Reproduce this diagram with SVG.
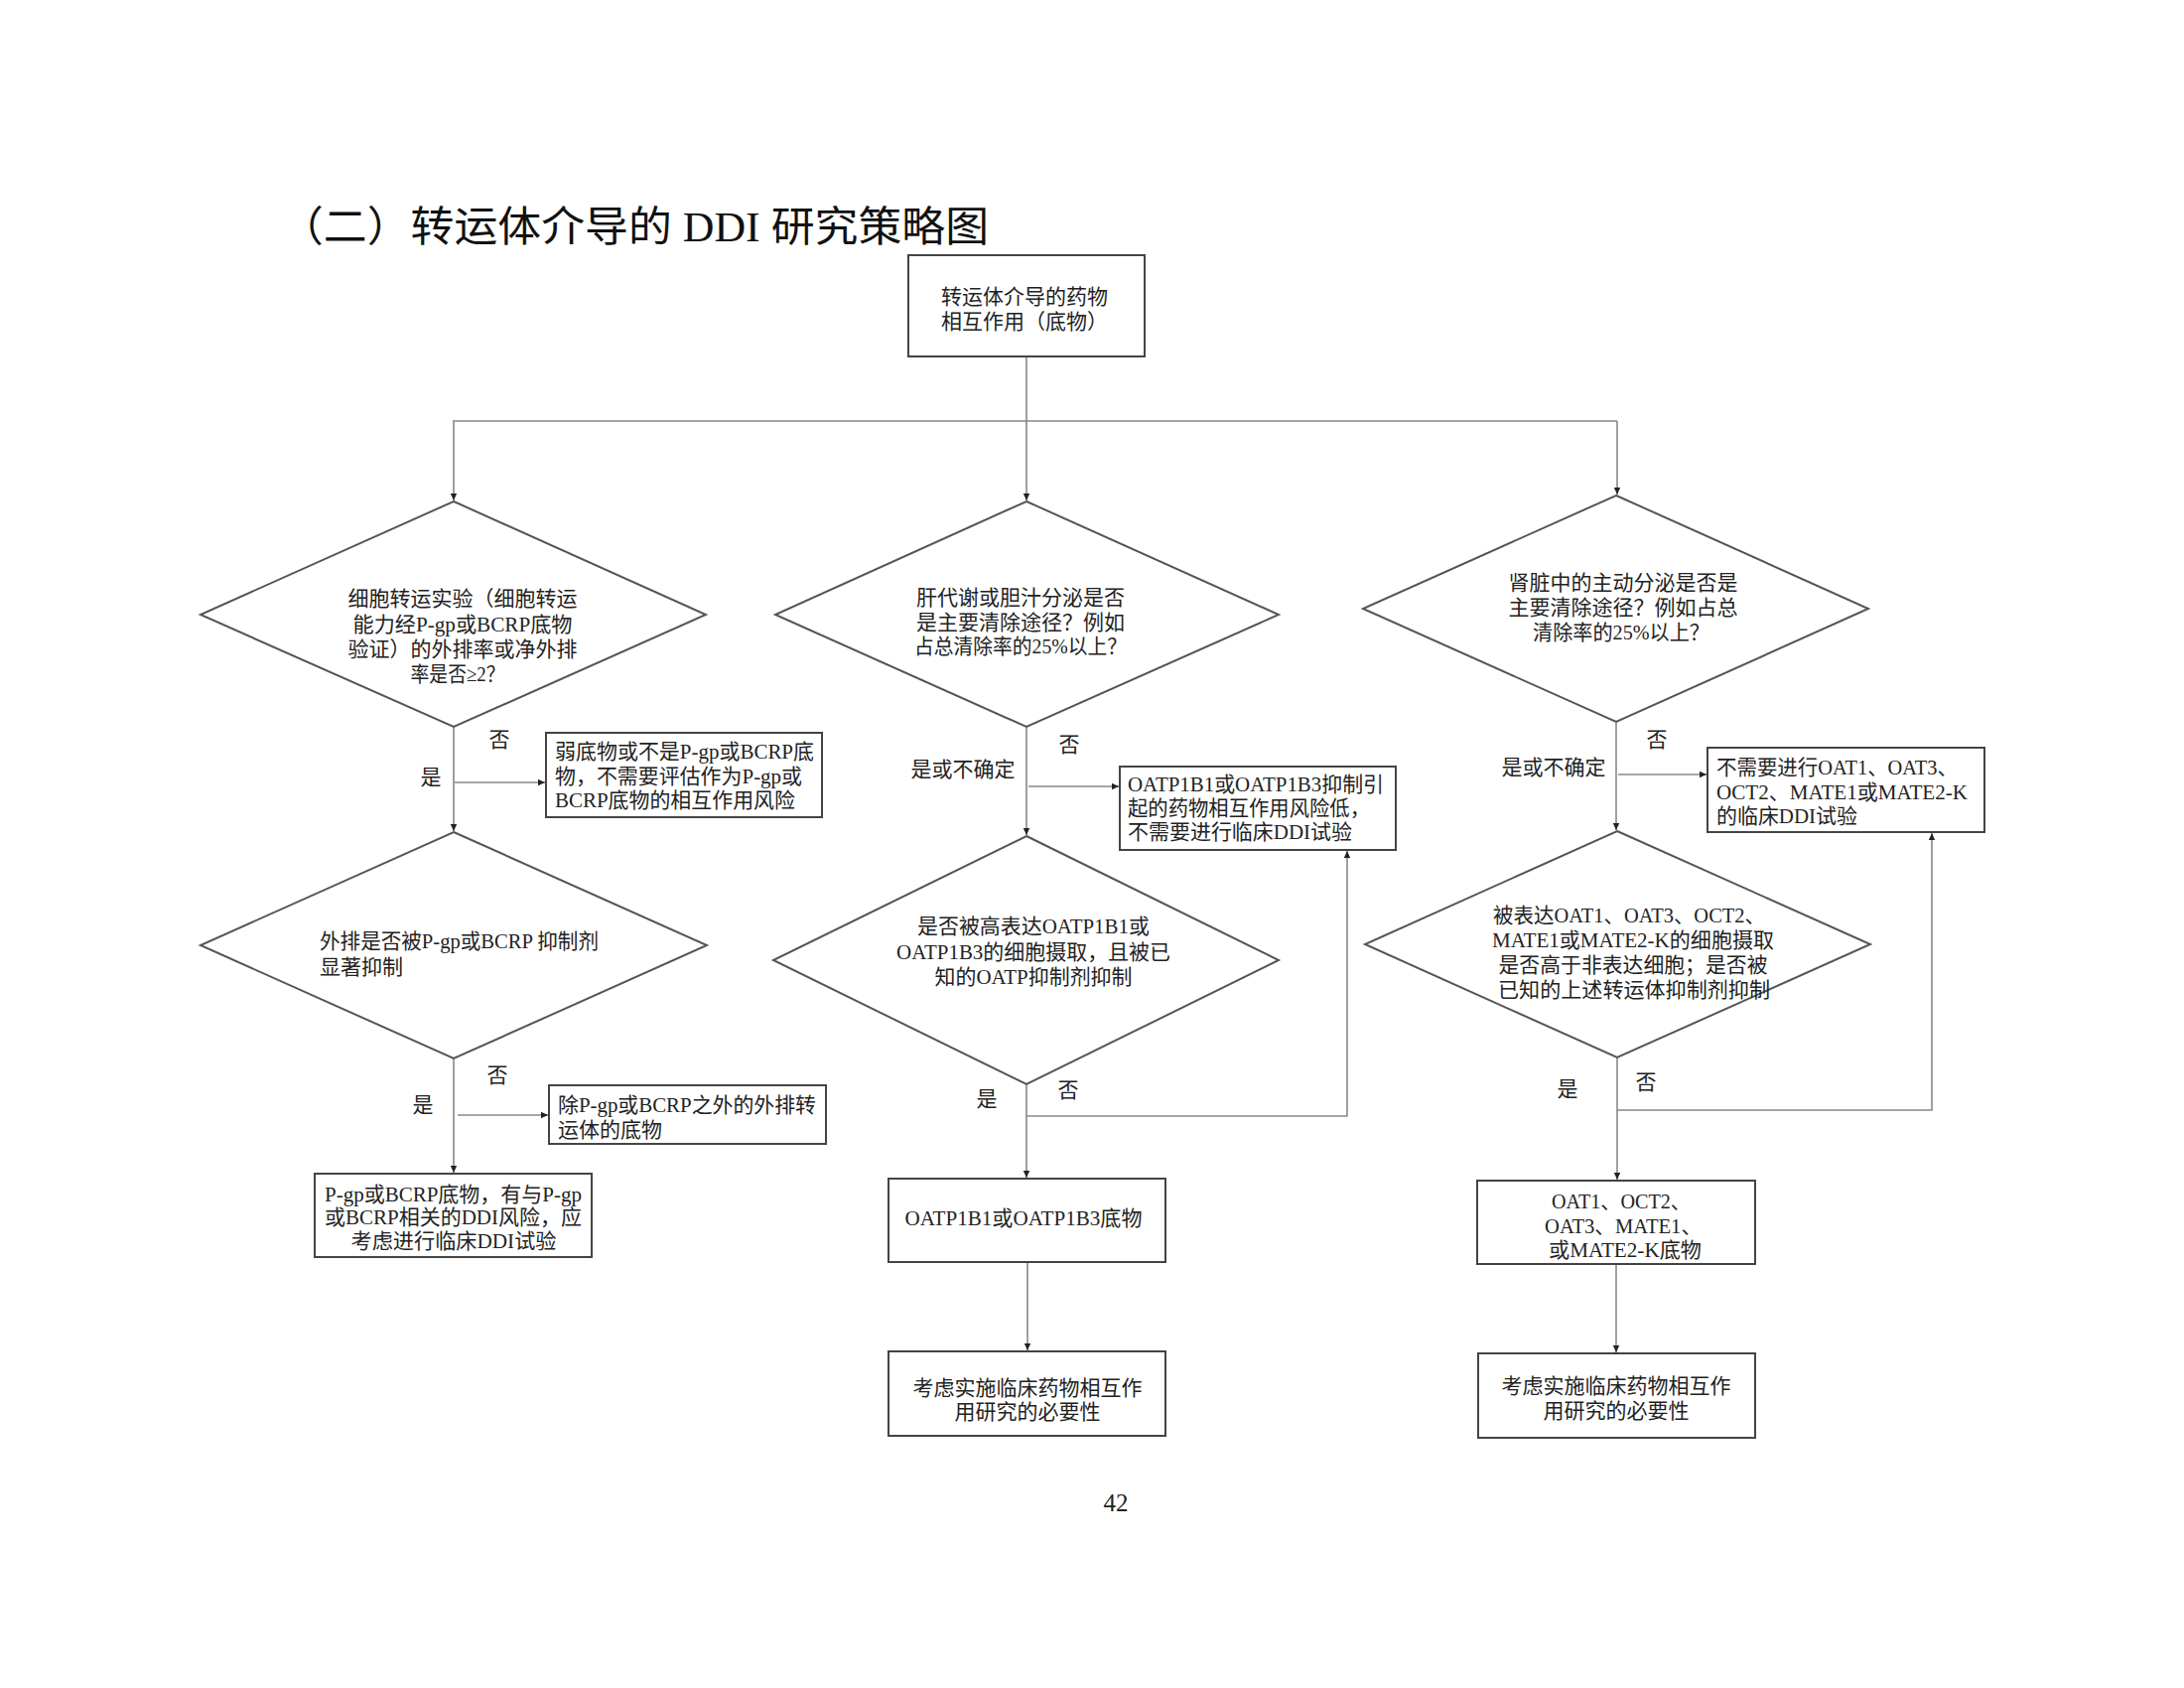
<svg xmlns="http://www.w3.org/2000/svg" width="2200" height="1700" viewBox="0 0 2200 1700">
<style>
.t{font-family:'Liberation Serif','Noto Sans CJK SC',serif;font-size:21px;fill:#222}
.c{text-anchor:middle}
.title{font-family:'Liberation Serif','Noto Sans CJK SC',serif;font-size:42px;fill:#111}
.box{fill:#fff;stroke:#444;stroke-width:2}
.dia{fill:#fff;stroke:#555;stroke-width:2}
.ln{fill:none;stroke:#888;stroke-width:1.6}
.arr{marker-end:url(#ah)}
</style>
<defs>
<marker id="ah" markerUnits="userSpaceOnUse" markerWidth="8" markerHeight="8" refX="7" refY="4" orient="auto">
<path d="M0,0.8 L7,4 L0,7.2 Z" fill="#222"/>
</marker>
</defs>
<rect width="2200" height="1700" fill="#fff"/>
<text class="title" x="282" y="243" textLength="714" lengthAdjust="spacingAndGlyphs">（二）转运体介导的 DDI 研究策略图</text>

<g id="connectors">
<line class="ln arr" x1="1034" y1="359" x2="1034" y2="504"/>
<line class="ln" x1="456" y1="424" x2="1629" y2="424"/>
<line class="ln arr" x1="457" y1="424" x2="457" y2="504"/>
<line class="ln arr" x1="1629" y1="424" x2="1629" y2="498"/>
<line class="ln arr" x1="457" y1="732" x2="457" y2="837"/>
<line class="ln arr" x1="458" y1="788" x2="549" y2="788"/>
<line class="ln arr" x1="457" y1="1066" x2="457" y2="1181"/>
<line class="ln arr" x1="461" y1="1123" x2="552" y2="1123"/>
<line class="ln arr" x1="1034" y1="732" x2="1034" y2="841"/>
<line class="ln arr" x1="1036" y1="792" x2="1127" y2="792"/>
<polyline class="ln arr" points="1034,1124 1357,1124 1357,857"/>
<line class="ln arr" x1="1034" y1="1092" x2="1034" y2="1186"/>
<line class="ln arr" x1="1035" y1="1271" x2="1035" y2="1360"/>
<line class="ln arr" x1="1628" y1="727" x2="1628" y2="836"/>
<line class="ln arr" x1="1630" y1="780" x2="1719" y2="780"/>
<polyline class="ln arr" points="1629,1118 1946,1118 1946,839"/>
<line class="ln arr" x1="1629" y1="1065" x2="1629" y2="1188"/>
<line class="ln arr" x1="1628" y1="1273" x2="1628" y2="1362"/>
</g>

<g id="labels">
<text class="t c" x="503" y="752">否</text>
<text class="t c" x="434" y="790">是</text>
<text class="t c" x="501" y="1090">否</text>
<text class="t c" x="426" y="1120">是</text>
<text class="t c" x="1077" y="757">否</text>
<text class="t c" x="970" y="782">是或不确定</text>
<text class="t c" x="994" y="1114">是</text>
<text class="t c" x="1076" y="1105">否</text>
<text class="t c" x="1669" y="752">否</text>
<text class="t c" x="1565" y="780">是或不确定</text>
<text class="t c" x="1579" y="1104">是</text>
<text class="t c" x="1658" y="1097">否</text>
</g>

<g id="start">
<rect class="box" x="915" y="257" width="238" height="102"/>
<text class="t" x="948" y="306">转运体介导的药物</text>
<text class="t" x="948" y="331">相互作用（底物）</text>
</g>

<g id="d1">
<polygon class="dia" points="457,505 711,619 457,732 202,619"/>
<text class="t c" x="466" y="610">细胞转运实验（细胞转运</text>
<text class="t c" x="466" y="636" textLength="221" lengthAdjust="spacingAndGlyphs">能力经P-gp或BCRP底物</text>
<text class="t c" x="466" y="661">验证）的外排率或净外排</text>
<text class="t c" x="461" y="686" textLength="95" lengthAdjust="spacingAndGlyphs">率是否≥2？</text>
</g>

<g id="b1">
<rect class="box" x="550" y="738" width="278" height="85"/>
<text class="t" x="559" y="764" textLength="261" lengthAdjust="spacingAndGlyphs">弱底物或不是P-gp或BCRP底</text>
<text class="t" x="559" y="789" textLength="249" lengthAdjust="spacingAndGlyphs">物，不需要评估作为P-gp或</text>
<text class="t" x="559" y="813" textLength="242" lengthAdjust="spacingAndGlyphs">BCRP底物的相互作用风险</text>
</g>

<g id="d2">
<polygon class="dia" points="457,838 712,952 457,1066 202,952"/>
<text class="t" x="322" y="955" textLength="281" lengthAdjust="spacingAndGlyphs">外排是否被P-gp或BCRP 抑制剂</text>
<text class="t" x="322" y="981">显著抑制</text>
</g>

<g id="b2">
<rect class="box" x="553" y="1093" width="279" height="59"/>
<text class="t" x="562" y="1120" textLength="260" lengthAdjust="spacingAndGlyphs">除P-gp或BCRP之外的外排转</text>
<text class="t" x="562" y="1145">运体的底物</text>
</g>

<g id="b3">
<rect class="box" x="317" y="1182" width="279" height="84"/>
<text class="t" x="327" y="1210" textLength="259" lengthAdjust="spacingAndGlyphs">P-gp或BCRP底物，有与P-gp</text>
<text class="t" x="327" y="1233" textLength="259" lengthAdjust="spacingAndGlyphs">或BCRP相关的DDI风险，应</text>
<text class="t c" x="457" y="1257" textLength="207" lengthAdjust="spacingAndGlyphs">考虑进行临床DDI试验</text>
</g>

<g id="d3">
<polygon class="dia" points="1034,505 1288,619 1034,732 781,619"/>
<text class="t c" x="1028" y="609">肝代谢或胆汁分泌是否</text>
<text class="t c" x="1028" y="634">是主要清除途径？例如</text>
<text class="t c" x="1028" y="658" textLength="214" lengthAdjust="spacingAndGlyphs">占总清除率的25%以上？</text>
</g>

<g id="b4">
<rect class="box" x="1128" y="772" width="278" height="84"/>
<text class="t" x="1136" y="797" textLength="258" lengthAdjust="spacingAndGlyphs">OATP1B1或OATP1B3抑制引</text>
<text class="t" x="1136" y="821" textLength="244" lengthAdjust="spacingAndGlyphs">起的药物相互作用风险低，</text>
<text class="t" x="1136" y="845" textLength="226" lengthAdjust="spacingAndGlyphs">不需要进行临床DDI试验</text>
</g>

<g id="d4">
<polygon class="dia" points="1034,842 1288,967 1034,1092 779,967"/>
<text class="t c" x="1041" y="940" textLength="234" lengthAdjust="spacingAndGlyphs">是否被高表达OATP1B1或</text>
<text class="t c" x="1041" y="966" textLength="276" lengthAdjust="spacingAndGlyphs">OATP1B3的细胞摄取，且被已</text>
<text class="t c" x="1041" y="991" textLength="199" lengthAdjust="spacingAndGlyphs">知的OATP抑制剂抑制</text>
</g>

<g id="b5">
<rect class="box" x="895" y="1187" width="279" height="84"/>
<text class="t c" x="1031" y="1234" textLength="239" lengthAdjust="spacingAndGlyphs">OATP1B1或OATP1B3底物</text>
</g>

<g id="b6">
<rect class="box" x="895" y="1361" width="279" height="85"/>
<text class="t c" x="1035" y="1405">考虑实施临床药物相互作</text>
<text class="t c" x="1035" y="1429">用研究的必要性</text>
</g>

<g id="d5">
<polygon class="dia" points="1628,499 1882,613 1628,727 1373,613"/>
<text class="t c" x="1635" y="594">肾脏中的主动分泌是否是</text>
<text class="t c" x="1635" y="619">主要清除途径？例如占总</text>
<text class="t c" x="1633" y="644" textLength="178" lengthAdjust="spacingAndGlyphs">清除率的25%以上？</text>
</g>

<g id="b7">
<rect class="box" x="1720" y="753" width="279" height="85"/>
<text class="t" x="1729" y="780" textLength="243" lengthAdjust="spacingAndGlyphs">不需要进行OAT1、OAT3、</text>
<text class="t" x="1729" y="805" textLength="253" lengthAdjust="spacingAndGlyphs">OCT2、MATE1或MATE2-K</text>
<text class="t" x="1729" y="829" textLength="142" lengthAdjust="spacingAndGlyphs">的临床DDI试验</text>
</g>

<g id="d6">
<polygon class="dia" points="1629,837 1884,951 1629,1065 1375,951"/>
<text class="t c" x="1641" y="929" textLength="274" lengthAdjust="spacingAndGlyphs">被表达OAT1、OAT3、OCT2、</text>
<text class="t c" x="1645" y="954" textLength="284" lengthAdjust="spacingAndGlyphs">MATE1或MATE2-K的细胞摄取</text>
<text class="t c" x="1645" y="979" textLength="271" lengthAdjust="spacingAndGlyphs">是否高于非表达细胞；是否被</text>
<text class="t c" x="1646" y="1004" textLength="274" lengthAdjust="spacingAndGlyphs">已知的上述转运体抑制剂抑制</text>
</g>

<g id="b8">
<rect class="box" x="1488" y="1189" width="280" height="84"/>
<text class="t c" x="1633" y="1217" textLength="140" lengthAdjust="spacingAndGlyphs">OAT1、OCT2、</text>
<text class="t c" x="1635" y="1242" textLength="158" lengthAdjust="spacingAndGlyphs">OAT3、MATE1、</text>
<text class="t c" x="1637" y="1266" textLength="154" lengthAdjust="spacingAndGlyphs">或MATE2-K底物</text>
</g>

<g id="b9">
<rect class="box" x="1489" y="1363" width="279" height="85"/>
<text class="t c" x="1628" y="1403">考虑实施临床药物相互作</text>
<text class="t c" x="1628" y="1428">用研究的必要性</text>
</g>

<text class="t c" x="1124" y="1522" style="font-size:25px">42</text>
</svg>
